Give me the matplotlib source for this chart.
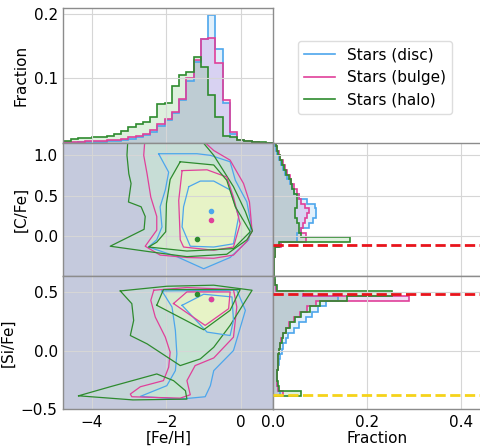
import numpy as np
import matplotlib
matplotlib.use('Agg')
import matplotlib.pyplot as plt
from matplotlib.lines import Line2D

# [Fe/H] marginal histogram (fraction per bin)
FEH_EDGES = np.linspace(-4.77, 0.87, 30)
FEH_DISC = [0.001, 0.001, 0.0015, 0.002, 0.002, 0.002, 0.003, 0.004, 0.005, 0.007,
            0.010, 0.013, 0.018, 0.027, 0.036, 0.046, 0.066, 0.096, 0.126, 0.161,
            0.197, 0.146, 0.062, 0.014, 0.005, 0.003, 0.002, 0.001, 0.001]
FEH_BULGE = [0.002, 0.002, 0.0025, 0.003, 0.003, 0.0035, 0.0045, 0.005, 0.007, 0.009,
             0.012, 0.015, 0.020, 0.029, 0.038, 0.049, 0.068, 0.100, 0.128, 0.160,
             0.163, 0.123, 0.067, 0.017, 0.005, 0.003, 0.002, 0.001, 0.001]
FEH_HALO = [0.004, 0.0066, 0.0076, 0.0087, 0.0097, 0.010, 0.012, 0.015, 0.019, 0.025,
            0.029, 0.033, 0.040, 0.061, 0.0625, 0.088, 0.105, 0.110, 0.133, 0.118,
            0.074, 0.040, 0.012, 0.009, 0.005, 0.003, 0.002, 0.0015, 0.001]

# [C/Fe] marginal histogram
CFE_EDGES = np.linspace(-0.50, 1.18, 29)
CFE_DISC = [0.001, 0.001, 0.001, 0.002, 0.002, 0.003, 0.014, 0.05, 0.05, 0.06,
            0.075, 0.085, 0.09, 0.09, 0.088, 0.072, 0.055, 0.045, 0.04, 0.035,
            0.03, 0.025, 0.02, 0.016, 0.012, 0.008, 0.006, 0.004]
CFE_BULGE = [0.002, 0.002, 0.002, 0.002, 0.003, 0.004, 0.016, 0.07, 0.07, 0.06,
             0.063, 0.068, 0.072, 0.075, 0.068, 0.058, 0.055, 0.05, 0.045, 0.038,
             0.035, 0.03, 0.025, 0.02, 0.015, 0.012, 0.008, 0.005]
CFE_HALO = [0.002, 0.002, 0.002, 0.002, 0.003, 0.004, 0.012, 0.163, 0.06, 0.055,
            0.055, 0.05, 0.047, 0.047, 0.05, 0.05, 0.05, 0.045, 0.04, 0.037,
            0.033, 0.028, 0.022, 0.018, 0.014, 0.010, 0.008, 0.005]

# [Si/Fe] marginal histogram
SIFE_EDGES = np.linspace(-0.525, 0.645, 27)
SIFE_DISC = [0, 0, 0, 0.015, 0.01, 0.008, 0.007, 0.008, 0.010, 0.012,
             0.014, 0.018, 0.021, 0.026, 0.032, 0.045, 0.055, 0.070, 0.082, 0.096,
             0.113, 0.138, 0.064, 0.005, 0.003, 0.002]
SIFE_BULGE = [0, 0, 0, 0.02, 0.01, 0.008, 0.007, 0.008, 0.009, 0.010,
              0.011, 0.013, 0.014, 0.017, 0.020, 0.026, 0.033, 0.044, 0.057, 0.072,
              0.09, 0.289, 0.064, 0.006, 0.003, 0.002]
SIFE_HALO = [0, 0, 0, 0.058, 0.012, 0.009, 0.008, 0.008, 0.009, 0.010,
             0.011, 0.012, 0.014, 0.018, 0.021, 0.027, 0.035, 0.046, 0.060, 0.078,
             0.10, 0.157, 0.252, 0.007, 0.004, 0.003]

# density contours, ([Fe/H], [X/Fe]) vertices
CFE_DISC_OUTER = [(-2.21, 1.02), (-1.94, 0.79), (-2.03, 0.57), (-2.17, 0.36), (-2.12, 0.11),
                  (-2.26, -0.05), (-2.48, -0.14), (-1.72, -0.26), (-1.00, -0.41), (-0.29, -0.27),
                  (0.21, -0.05), (0.27, 0.15), (0.16, 0.42), (-0.15, 0.69), (-0.29, 0.92),
                  (-0.82, 1.00), (-1.18, 1.02)]
CFE_DISC_INNER = [(-1.40, 0.61), (-1.54, 0.36), (-1.58, 0.11), (-1.36, -0.13), (-0.73, -0.14),
                  (-0.20, -0.10), (-0.06, 0.24), (-0.29, 0.57), (-0.73, 0.68), (-1.09, 0.68)]
CFE_BULGE_OUTER = [(-2.57, 1.25), (-2.61, 1.00), (-2.52, 0.77), (-2.42, 0.48), (-2.26, 0.24),
                   (-2.26, 0.07), (-2.57, -0.13), (-2.17, -0.24), (-1.45, -0.27), (-0.73, -0.28),
                   (-0.20, -0.24), (0.16, -0.07), (0.30, 0.06), (0.23, 0.42), (0.07, 0.65),
                   (-0.29, 0.94), (-0.73, 1.06), (-1.18, 1.25)]
CFE_BULGE_INNER = [(-1.58, 0.81), (-1.67, 0.44), (-1.63, -0.05), (-1.54, -0.14), (-0.73, -0.18),
                   (-0.20, -0.14), (-0.02, 0.15), (-0.20, 0.48), (-0.38, 0.73), (-0.91, 0.82)]
CFE_HALO_OUTER = [(-3.03, 1.25), (-3.06, 1.00), (-3.01, 0.77), (-2.95, 0.65), (-3.02, 0.42),
                  (-2.68, 0.36), (-2.57, 0.24), (-2.60, 0.08), (-3.51, -0.13), (-2.43, -0.20),
                  (-1.45, -0.26), (-0.38, -0.23), (0.16, -0.05), (0.31, 0.06), (0.12, 0.30),
                  (-0.20, 0.61), (-0.47, 0.81), (-0.73, 1.00), (-1.00, 1.15), (-1.09, 1.25)]
CFE_HALO_INNER = [(-1.63, 0.92), (-1.90, 0.70), (-2.00, 0.40), (-2.02, 0.05), (-2.26, -0.08),
                  (-2.48, -0.14), (-1.45, -0.19), (-0.20, -0.16), (0.25, 0.05), (-0.15, 0.36),
                  (-0.38, 0.69), (-0.73, 0.88)]

SIFE_DISC_OUTER = [(-2.12, 0.507), (-0.11, 0.513), (0.12, 0.342), (-0.20, 0.0), (-0.73, -0.171),
                   (-0.82, -0.299), (-0.96, -0.393), (-1.63, -0.413), (-2.70, -0.39), (-1.99, -0.299),
                   (-1.76, -0.171), (-1.72, -0.028), (-1.76, 0.171), (-1.85, 0.370)]
SIFE_DISC_INNER = [(-1.58, 0.385), (-1.00, 0.479), (-0.24, 0.456), (-0.20, 0.256), (-0.29, 0.128),
                   (-0.91, 0.157)]
SIFE_BULGE_OUTER = [(-2.34, 0.513), (-1.45, 0.536), (-0.20, 0.519), (-0.11, 0.37), (-0.20, 0.114),
                    (-0.73, -0.063), (-1.23, -0.128), (-1.45, -0.256), (-1.36, -0.376), (-1.63, -0.405),
                    (-2.93, -0.393), (-2.97, -0.370), (-2.70, -0.308), (-2.08, -0.256), (-1.94, -0.142),
                    (-1.90, -0.014), (-2.03, 0.114), (-2.30, 0.285), (-2.42, 0.427)]
SIFE_BULGE_INNER = [(-1.81, 0.40), (-1.45, 0.499), (-0.29, 0.499), (-0.33, 0.356), (-0.96, 0.214)]
SIFE_HALO_OUTER = [(-3.24, 0.507), (-1.99, 0.547), (-0.73, 0.556), (0.30, 0.513), (-0.29, 0.214),
                   (-0.73, 0.028), (-1.09, -0.071), (-1.63, -0.128), (-2.52, 0.057), (-2.97, 0.128),
                   (-2.88, 0.256), (-2.93, 0.399)]
SIFE_HALO_TAIL = [(-4.36, -0.385), (-3.51, -0.308), (-2.26, -0.199), (-1.81, -0.256), (-1.49, -0.342),
                  (-1.45, -0.413), (-2.90, -0.42)]
SIFE_HALO_INNER = [(-2.26, 0.385), (-2.08, 0.519), (-0.02, 0.519), (-0.29, 0.342), (-1.00, 0.177)]

# median points
CFE_MEDIANS = {'disc': (-0.80, 0.306), 'bulge': (-0.80, 0.19), 'halo': (-1.18, -0.045)}
SIFE_MEDIANS = {'disc': (-0.80, 0.436), 'bulge': (-0.80, 0.436), 'halo': (-1.18, 0.479)}

# reference abundance lines on the marginals
CFE_REF = -0.115
SIFE_REF_HIGH = 0.478
SIFE_REF_LOW = -0.376

LABELS = ['Stars (disc)', 'Stars (bulge)', 'Stars (halo)']

DISC_C = '#4da6ec'
BULGE_C = '#e0409a'
HALO_C = '#2e8b2e'
DISC_F = '#6ab4ee'
BULGE_F = '#b45ad2'
HALO_F = '#5ab45a'
BG_2D = '#c5cadd'
OUTER_F = '#caf7d1'
INNER_F = '#ffffbe'
SPINE_C = '#8c8c8c'
GRID_C = '#d6d6d6'

FEH_LIM = (-4.77, 0.87)
CFE_LIM = (-0.5, 1.15)
SIFE_LIM = (-0.5, 0.634)
FRAC_LIM = (0, 0.442)

fig = plt.figure(figsize=(4.81, 4.47), dpi=100)
ax_top = fig.add_axes([0.1316, 0.6794, 0.4366, 0.302])
ax_cfe = fig.add_axes([0.1316, 0.3826, 0.4366, 0.2969])
ax_sife = fig.add_axes([0.1316, 0.0843, 0.4366, 0.2982])
ax_cfe_h = fig.add_axes([0.5682, 0.3826, 0.4318, 0.2969])
ax_sife_h = fig.add_axes([0.5682, 0.0843, 0.4318, 0.2982])


def style(ax):
    for side, sp in ax.spines.items():
        sp.set_color(SPINE_C)
        sp.set_linewidth(1.0)
    ax.grid(True, color=GRID_C, linewidth=0.8)
    ax.tick_params(length=0, labelsize=11, pad=4)


for ax in (ax_top, ax_cfe, ax_sife, ax_cfe_h, ax_sife_h):
    style(ax)
for ax in (ax_cfe_h, ax_sife_h):
    ax.spines['right'].set_visible(False)

pops = [
    (FEH_DISC, CFE_DISC, SIFE_DISC, DISC_C, DISC_F),
    (FEH_BULGE, CFE_BULGE, SIFE_BULGE, BULGE_C, BULGE_F),
    (FEH_HALO, CFE_HALO, SIFE_HALO, HALO_C, HALO_F),
]

# marginal histograms
for feh, cfe, sife, lc, fc in pops:
    ax_top.stairs(feh, FEH_EDGES, fill=True, color=fc, alpha=0.2, lw=0)
    ax_cfe_h.stairs(cfe, CFE_EDGES, orientation='horizontal', fill=True, color=fc, alpha=0.2, lw=0)
    ax_sife_h.stairs(sife, SIFE_EDGES, orientation='horizontal', fill=True, color=fc, alpha=0.2, lw=0)
for feh, cfe, sife, lc, fc in pops:
    ax_top.stairs(feh, FEH_EDGES, color=lc, lw=1.2)
    ax_cfe_h.stairs(cfe, CFE_EDGES, orientation='horizontal', color=lc, lw=1.2)
    ax_sife_h.stairs(sife, SIFE_EDGES, orientation='horizontal', color=lc, lw=1.2)

ax_cfe_h.axhline(CFE_REF, color='#e8141c', lw=2, ls='--', zorder=5)
ax_sife_h.axhline(SIFE_REF_HIGH, color='#e8141c', lw=2, ls='--', zorder=5)
ax_sife_h.axhline(SIFE_REF_LOW, color='#f5d31a', lw=2, ls='--', zorder=5)


def draw_contours(ax, outers, inners, colors):
    ax.set_facecolor(BG_2D)
    for polys, c in zip(outers, colors):
        for poly in polys:
            xs, ys = zip(*poly)
            ax.fill(xs, ys, color=OUTER_F, alpha=0.25, lw=0)
    for poly in inners:
        xs, ys = zip(*poly)
        ax.fill(xs, ys, color=INNER_F, alpha=0.25, lw=0)
    for polys, c in zip(outers, colors):
        for poly in polys:
            xs, ys = zip(*(poly + poly[:1]))
            ax.plot(xs, ys, color=c, lw=0.9)
    for poly, c in zip(inners, colors):
        xs, ys = zip(*(poly + poly[:1]))
        ax.plot(xs, ys, color=c, lw=0.9)


cols = [DISC_C, BULGE_C, HALO_C]
draw_contours(ax_cfe,
              [[CFE_DISC_OUTER], [CFE_BULGE_OUTER], [CFE_HALO_OUTER]],
              [CFE_DISC_INNER, CFE_BULGE_INNER, CFE_HALO_INNER], cols)
draw_contours(ax_sife,
              [[SIFE_DISC_OUTER], [SIFE_BULGE_OUTER], [SIFE_HALO_OUTER, SIFE_HALO_TAIL]],
              [SIFE_DISC_INNER, SIFE_BULGE_INNER, SIFE_HALO_INNER], cols)

for key, c in zip(['disc', 'bulge', 'halo'], cols):
    ax_cfe.plot(*CFE_MEDIANS[key], 'o', color=c, ms=3, zorder=6)
    ax_sife.plot(*SIFE_MEDIANS[key], 'o', color=c, ms=3, zorder=6)

# limits, ticks, labels
ax_top.set_xlim(FEH_LIM)
ax_top.set_ylim(0, 0.208)
ax_top.set_yticks([0.1, 0.2])
ax_top.set_xticks([-4, -2, 0])
ax_top.tick_params(labelbottom=False)
ax_top.set_ylabel('Fraction', fontsize=11)

ax_cfe.set_xlim(FEH_LIM)
ax_cfe.set_ylim(CFE_LIM)
ax_cfe.set_xticks([-4, -2, 0])
ax_cfe.set_yticks([0.0, 0.5, 1.0])
ax_cfe.tick_params(labelbottom=False)
ax_cfe.set_ylabel('[C/Fe]', fontsize=11)

ax_sife.set_xlim(FEH_LIM)
ax_sife.set_ylim(SIFE_LIM)
ax_sife.set_xticks([-4, -2, 0])
ax_sife.set_yticks([-0.5, 0.0, 0.5])
ax_sife.set_xlabel('[Fe/H]', fontsize=11, labelpad=1)
ax_sife.set_ylabel('[Si/Fe]', fontsize=11)

ax_cfe_h.set_xlim(FRAC_LIM)
ax_cfe_h.set_ylim(CFE_LIM)
ax_cfe_h.set_xticks([0.0, 0.2, 0.4])
ax_cfe_h.set_yticks([0.0, 0.5, 1.0])
ax_cfe_h.tick_params(labelbottom=False, labelleft=False)

ax_sife_h.set_xlim(FRAC_LIM)
ax_sife_h.set_ylim(SIFE_LIM)
ax_sife_h.set_xticks([0.0, 0.2, 0.4])
ax_sife_h.set_yticks([-0.5, 0.0, 0.5])
ax_sife_h.tick_params(labelleft=False)
ax_sife_h.set_xlabel('Fraction', fontsize=11, labelpad=1)

fig.align_ylabels([ax_top, ax_cfe, ax_sife])

handles = [Line2D([], [], color=c, lw=1.2) for c in cols]
leg = fig.legend(handles, LABELS, loc='upper left', bbox_to_anchor=(0.6195, 0.908),
                 fontsize=11, borderaxespad=0, framealpha=1)
leg.get_frame().set_edgecolor('#dddddd')

fig.savefig('out.png', dpi=100)
